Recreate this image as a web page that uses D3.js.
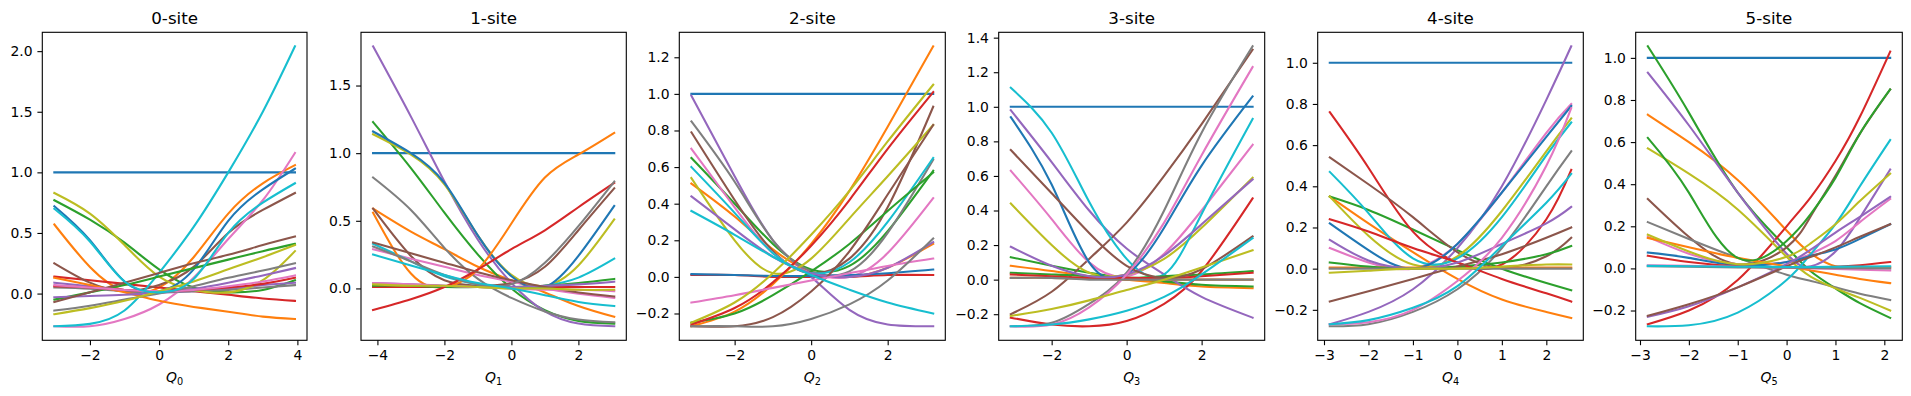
<!DOCTYPE html>
<html>
<head>
<meta charset="utf-8">
<script src="https://cdn.jsdelivr.net/npm/d3@7"></script>
<style>
  html, body { margin: 0; padding: 0; background: #fff; }
  svg { display: block; }
  text { font-family: "DejaVu Sans", sans-serif; }
</style>
</head>
<body>
<svg id="chart" width="1911" height="396"></svg>
<script>
// ---------------- DATA ----------------
const panelTitles = ["0-site", "1-site", "2-site", "3-site", "4-site", "5-site"];
const axisSubscripts = ["0", "1", "2", "3", "4", "5"];

const xTicks0 = [-2, 0, 2, 4];
const xTicks1 = [-4, -2, 0, 2];
const xTicks2 = [-2, 0, 2];
const xTicks3 = [-2, 0, 2];
const xTicks4 = [-3, -2, -1, 0, 1, 2];
const xTicks5 = [-3, -2, -1, 0, 1, 2];

const yTicks0 = [0.0, 0.5, 1.0, 1.5, 2.0];
const yTicks1 = [0.0, 0.5, 1.0, 1.5];
const yTicks2 = [-0.2, 0.0, 0.2, 0.4, 0.6, 0.8, 1.0, 1.2];
const yTicks3 = [-0.2, 0.0, 0.2, 0.4, 0.6, 0.8, 1.0, 1.2, 1.4];
const yTicks4 = [-0.2, 0.0, 0.2, 0.4, 0.6, 0.8, 1.0];
const yTicks5 = [-0.2, 0.0, 0.2, 0.4, 0.6, 0.8, 1.0];

// sample abscissae for each panel
const site0X = [-3.03, -2, -1, 0, 1, 2, 3, 3.93];
const site1X = [-4.13, -3, -2, -1, 0, 1, 2, 3.07];
const site2X = [-3.13, -2, -1, 0, 1, 2, 3.19];
const site3X = [-3.09, -2, -1, 0, 1, 2, 3.36];
const site4X = [-2.87, -2, -1, 0, 1, 2, 2.56];
const site5X = [-2.84, -2, -1, 0, 0.5, 1, 1.5, 2.12];

// curves (in colour-cycle order)
const site0Y = [
  [1, 1, 1, 1, 1, 1, 1, 1],
  [0.57, 0.22, 0.02, 0.05, 0.3, 0.66, 0.91, 1.06],
  [0.77, 0.61, 0.42, 0.2, 0.05, 0.01, 0.03, 0.11],
  [0.14, 0.11, 0.08, 0.05, 0.02, -0.01, -0.04, -0.06],
  [0.09, 0.06, 0.03, 0.01, 0.02, 0.04, 0.07, 0.09],
  [0.25, 0.09, 0.02, 0.07, 0.22, 0.5, 0.69, 0.83],
  [-0.27, -0.27, -0.21, -0.09, 0.13, 0.45, 0.77, 1.16],
  [0.05, 0.04, 0.02, 0.01, 0.02, 0.03, 0.05, 0.07],
  [0.83, 0.66, 0.4, 0.14, 0.03, 0.01, 0.11, 0.35],
  [-0.27, -0.25, -0.14, 0.17, 0.55, 1.0, 1.5, 2.04],
  [0.72, 0.44, 0.1, 0.02, 0.2, 0.6, 0.86, 1.03],
  [0.13, 0.07, 0.01, -0.06, -0.11, -0.15, -0.19, -0.21],
  [-0.05, 0.01, 0.07, 0.14, 0.21, 0.28, 0.35, 0.41],
  [0.06, 0.05, 0.03, 0.02, 0.03, 0.05, 0.08, 0.13],
  [-0.03, -0.02, -0.01, 0.01, 0.04, 0.09, 0.15, 0.21],
  [-0.07, 0.01, 0.09, 0.17, 0.25, 0.32, 0.40, 0.47],
  [0.07, 0.05, 0.03, 0.02, 0.03, 0.06, 0.1, 0.15],
  [-0.14, -0.1, -0.05, 0.0, 0.06, 0.13, 0.19, 0.25],
  [-0.17, -0.12, -0.06, 0.02, 0.1, 0.2, 0.3, 0.40],
  [0.70, 0.43, 0.1, 0.01, 0.12, 0.5, 0.75, 0.91]
];

const site1Y = [
  [1, 1, 1, 1, 1, 1, 1, 1],
  [0.59, 0.42, 0.29, 0.16, 0.06, -0.03, -0.13, -0.21],
  [1.23, 0.89, 0.56, 0.25, 0.0, -0.16, -0.24, -0.26],
  [0.01, 0.01, 0.01, 0.01, 0.01, 0.01, 0.01, 0.01],
  [1.79, 1.27, 0.79, 0.36, 0.04, -0.17, -0.26, -0.28],
  [0.59, 0.24, 0.06, 0.02, 0.04, 0.16, 0.43, 0.74],
  [0.29, 0.22, 0.16, 0.1, 0.05, 0.0, -0.04, -0.07],
  [0.82, 0.58, 0.3, 0.07, -0.07, -0.17, -0.23, -0.25],
  [1.14, 0.99, 0.77, 0.39, 0.1, 0.02, 0.17, 0.51],
  [0.33, 0.2, 0.09, 0.03, 0.0, 0.02, 0.08, 0.22],
  [1.16, 1.0, 0.78, 0.39, 0.09, 0.01, 0.24, 0.61],
  [0.56, 0.11, 0.01, 0.14, 0.48, 0.82, 0.99, 1.15],
  [0.02, 0.02, 0.01, 0.01, 0.01, 0.02, 0.04, 0.07],
  [-0.16, -0.08, 0.01, 0.14, 0.29, 0.43, 0.6, 0.78],
  [0.04, 0.03, 0.02, 0.01, 0.01, 0.02, 0.03, 0.05],
  [0.34, 0.26, 0.19, 0.12, 0.06, 0.01, -0.03, -0.06],
  [0.04, 0.03, 0.02, 0.01, 0.0, -0.01, -0.01, -0.02],
  [0.31, 0.2, 0.1, 0.03, 0.03, 0.19, 0.46, 0.79],
  [0.03, 0.02, 0.02, 0.01, 0.0, 0.0, -0.01, -0.01],
  [0.25, 0.17, 0.1, 0.04, 0.0, -0.05, -0.1, -0.13]
];

const site2Y = [
  [1, 1, 1, 1, 1, 1, 1],
  [0.51, 0.33, 0.15, 0.03, 0.0, 0.05, 0.18],
  [0.65, 0.4, 0.18, 0.04, 0.06, 0.25, 0.58],
  [0.01, 0.01, 0.0, 0.0, 0.0, 0.01, 0.01],
  [0.99, 0.55, 0.2, 0.0, -0.18, -0.26, -0.27],
  [0.79, 0.42, 0.14, 0.02, 0.1, 0.38, 0.93],
  [0.70, 0.38, 0.13, 0.02, 0.0, 0.13, 0.43],
  [0.85, 0.52, 0.2, 0.03, 0.03, 0.24, 0.64],
  [0.54, 0.2, 0.02, 0.1, 0.32, 0.55, 0.83],
  [0.60, 0.35, 0.13, 0.02, 0.08, 0.3, 0.65],
  [0.015, 0.01, 0.005, 0.005, 0.01, 0.02, 0.04],
  [-0.27, -0.19, -0.04, 0.18, 0.47, 0.82, 1.26],
  [-0.25, -0.2, -0.1, 0.03, 0.18, 0.36, 0.57],
  [-0.26, -0.17, -0.03, 0.17, 0.42, 0.7, 1.01],
  [0.44, 0.26, 0.11, 0.02, 0.0, 0.05, 0.19],
  [-0.27, -0.27, -0.22, -0.08, 0.14, 0.45, 0.83],
  [-0.14, -0.1, -0.06, -0.02, 0.02, 0.06, 0.10],
  [-0.27, -0.27, -0.27, -0.23, -0.15, -0.02, 0.21],
  [-0.25, -0.14, 0.02, 0.23, 0.47, 0.74, 1.05],
  [0.36, 0.23, 0.11, 0.01, -0.07, -0.14, -0.2]
];

const site3Y = [
  [1, 1, 1, 1, 1, 1, 1],
  [0.08, 0.05, 0.02, 0.0, -0.02, -0.04, -0.05],
  [0.13, 0.08, 0.04, 0.01, -0.01, -0.03, -0.04],
  [-0.22, -0.26, -0.27, -0.24, -0.14, 0.05, 0.47],
  [0.98, 0.68, 0.4, 0.18, 0.03, -0.1, -0.22],
  [-0.2, -0.07, 0.12, 0.33, 0.6, 0.9, 1.33],
  [0.63, 0.35, 0.1, 0.02, 0.15, 0.4, 0.78],
  [-0.27, -0.25, -0.14, 0.04, 0.4, 0.85, 1.35],
  [0.44, 0.2, 0.04, 0.03, 0.12, 0.3, 0.59],
  [1.11, 0.85, 0.45, 0.12, 0.03, 0.38, 0.93],
  [0.94, 0.55, 0.1, 0.03, 0.3, 0.66, 1.06],
  [0.01, 0.01, 0.005, 0.0, 0.0, 0.0, 0.0],
  [0.04, 0.03, 0.02, 0.01, 0.02, 0.03, 0.05],
  [0.03, 0.02, 0.01, 0.01, 0.01, 0.02, 0.04],
  [0.19, 0.08, 0.02, 0.03, 0.14, 0.32, 0.58],
  [0.75, 0.5, 0.27, 0.08, 0.01, 0.06, 0.25],
  [-0.27, -0.26, -0.16, 0.03, 0.33, 0.72, 1.23],
  [0.01, 0.01, 0.0, 0.0, 0.0, 0.0, 0.0],
  [-0.21, -0.17, -0.12, -0.06, 0.0, 0.07, 0.17],
  [-0.27, -0.26, -0.23, -0.18, -0.1, 0.03, 0.24]
];

const site4Y = [
  [1, 1, 1, 1, 1, 1, 1],
  [0.35, 0.22, 0.08, -0.05, -0.15, -0.21, -0.24],
  [0.35, 0.285, 0.19, 0.09, 0.0, -0.07, -0.105],
  [0.76, 0.49, 0.18, 0.03, 0.02, 0.24, 0.48],
  [-0.27, -0.21, -0.1, 0.1, 0.4, 0.82, 1.08],
  [0.54, 0.41, 0.25, 0.08, 0.005, 0.06, 0.15],
  [0.10, 0.03, 0.0, 0.12, 0.37, 0.66, 0.80],
  [-0.28, -0.27, -0.21, -0.1, 0.1, 0.4, 0.57],
  [0.35, 0.16, 0.02, 0.06, 0.28, 0.57, 0.73],
  [0.47, 0.27, 0.05, 0.05, 0.25, 0.55, 0.71],
  [0.22, 0.09, 0.0, 0.12, 0.37, 0.64, 0.79],
  [0.005, 0.005, 0.005, 0.005, 0.005, 0.005, 0.005],
  [0.03, 0.01, 0.0, 0.01, 0.03, 0.07, 0.11],
  [0.24, 0.18, 0.1, 0.03, -0.05, -0.12, -0.16],
  [0.14, 0.04, 0.0, 0.03, 0.12, 0.22, 0.30],
  [-0.16, -0.11, -0.05, 0.01, 0.07, 0.15, 0.20],
  [-0.27, -0.26, -0.2, -0.06, 0.15, 0.5, 0.78],
  [0.0, 0.0, 0.0, 0.0, 0.0, 0.0, 0.0],
  [-0.02, -0.01, 0.0, 0.0, 0.01, 0.02, 0.02],
  [-0.27, -0.25, -0.19, -0.085, 0.11, 0.32, 0.46]
];

const site5Y = [
  [1, 1, 1, 1, 1, 1, 1, 1],
  [0.73, 0.6, 0.42, 0.18, 0.07, 0.01, 0.005, 0.005],
  [1.055, 0.74, 0.36, 0.1, -0.015, -0.095, -0.165, -0.235],
  [-0.265, -0.2, -0.055, 0.2, 0.34, 0.51, 0.72, 1.03],
  [0.93, 0.68, 0.36, 0.07, 0.01, 0.08, 0.24, 0.47],
  [0.33, 0.15, 0.02, 0.1, 0.25, 0.44, 0.64, 0.85],
  [0.15, 0.07, 0.02, 0.03, 0.07, 0.13, 0.22, 0.33],
  [0.22, 0.14, 0.05, -0.03, -0.06, -0.09, -0.12, -0.15],
  [0.57, 0.45, 0.28, 0.055, -0.04, -0.095, -0.14, -0.2],
  [-0.275, -0.27, -0.21, -0.055, 0.07, 0.21, 0.39, 0.61],
  [0.075, 0.05, 0.015, 0.03, 0.06, 0.09, 0.14, 0.21],
  [0.145, 0.1, 0.05, 0.01, -0.01, -0.03, -0.05, -0.07],
  [0.62, 0.36, 0.05, 0.13, 0.26, 0.43, 0.64, 0.85],
  [0.06, 0.03, 0.01, 0.005, 0.005, 0.008, 0.015, 0.03],
  [-0.23, -0.18, -0.09, 0.02, 0.09, 0.17, 0.245, 0.34],
  [-0.225, -0.17, -0.09, 0.01, 0.055, 0.1, 0.15, 0.21],
  [0.015, 0.012, 0.008, 0.003, 0.0, -0.003, -0.006, -0.01],
  [0.01, 0.008, 0.005, 0.003, 0.002, 0.001, 0.001, 0.0],
  [0.16, 0.08, 0.02, 0.055, 0.12, 0.21, 0.32, 0.45],
  [0.012, 0.01, 0.008, 0.007, 0.007, 0.008, 0.009, 0.01]
];

// ---------------- LAYOUT ----------------
const panelX = [site0X, site1X, site2X, site3X, site4X, site5X];
const panelY = [site0Y, site1Y, site2Y, site3Y, site4Y, site5Y];
const panelXTicks = [xTicks0, xTicks1, xTicks2, xTicks3, xTicks4, xTicks5];
const panelYTicks = [yTicks0, yTicks1, yTicks2, yTicks3, yTicks4, yTicks5];

const axLeft  = [42.3, 361.0, 679.3, 998.7, 1317.7, 1635.7];
const axRight = [307.0, 626.3, 945.3, 1264.7, 1583.3, 1902.3];
const axTop = 32.3, axBottom = 340.3;

const tickFont = 13.9, titleFont = 16.7;
const tickLen = 4.9, tickPad = 4.9;
const colors = d3.schemeCategory10;

const svg = d3.select("#chart");
svg.append("rect").attr("width", 1911).attr("height", 396).attr("fill", "#fff");

function padDomain(lo, hi) {
  const m = (hi - lo) * 0.05;
  return [lo - m, hi + m];
}

panelTitles.forEach((title, p) => {
  const xs = panelX[p];
  const curves = panelY[p];
  const allY = curves.flat();
  const x = d3.scaleLinear().domain(padDomain(xs[0], xs[xs.length - 1])).range([axLeft[p], axRight[p]]);
  const y = d3.scaleLinear().domain(padDomain(d3.min(allY), d3.max(allY))).range([axBottom, axTop]);

  const g = svg.append("g");

  const line = d3.line()
    .x((d, i) => x(xs[i]))
    .y(d => y(d))
    .curve(d3.curveNatural);

  g.selectAll("path.curve")
    .data(curves)
    .join("path")
    .attr("class", "curve")
    .attr("d", d => line(d))
    .attr("fill", "none")
    .attr("stroke", (d, i) => colors[i % 10])
    .attr("stroke-width", 2.08)
    .attr("stroke-linecap", "square")
    .attr("stroke-linejoin", "round");

  // axes
  const xa = g.append("g").attr("transform", `translate(0,${axBottom})`)
    .call(d3.axisBottom(x).tickValues(panelXTicks[p]).tickFormat(d3.format("d"))
      .tickSize(tickLen).tickPadding(tickPad));
  const ya = g.append("g").attr("transform", `translate(${axLeft[p]},0)`)
    .call(d3.axisLeft(y).tickValues(panelYTicks[p]).tickFormat(d3.format(".1f"))
      .tickSize(tickLen).tickPadding(tickPad));
  [xa, ya].forEach(a => {
    a.select(".domain").remove();
    a.selectAll("line").attr("stroke", "#000").attr("stroke-width", 1.1);
    a.selectAll("text").attr("fill", "#000").style("font-size", tickFont + "px")
      .style("font-family", "'DejaVu Sans', sans-serif");
  });

  // frame
  g.append("rect")
    .attr("x", axLeft[p]).attr("y", axTop)
    .attr("width", axRight[p] - axLeft[p]).attr("height", axBottom - axTop)
    .attr("fill", "none").attr("stroke", "#000").attr("stroke-width", 1.1);

  const cx = (axLeft[p] + axRight[p]) / 2;
  // title
  g.append("text")
    .attr("x", cx).attr("y", axTop - 8.3)
    .attr("text-anchor", "middle")
    .style("font-size", titleFont + "px")
    .attr("fill", "#000")
    .text(title);

  // x label  Q_i
  const lbl = g.append("text")
    .attr("x", cx).attr("y", 381.5)
    .attr("text-anchor", "middle")
    .style("font-size", tickFont + "px")
    .attr("fill", "#000");
  lbl.append("tspan").attr("font-style", "italic").text("Q");
  lbl.append("tspan").attr("dy", 3).style("font-size", (tickFont * 0.7) + "px").text(axisSubscripts[p]);
});
</script>
</body>
</html>
